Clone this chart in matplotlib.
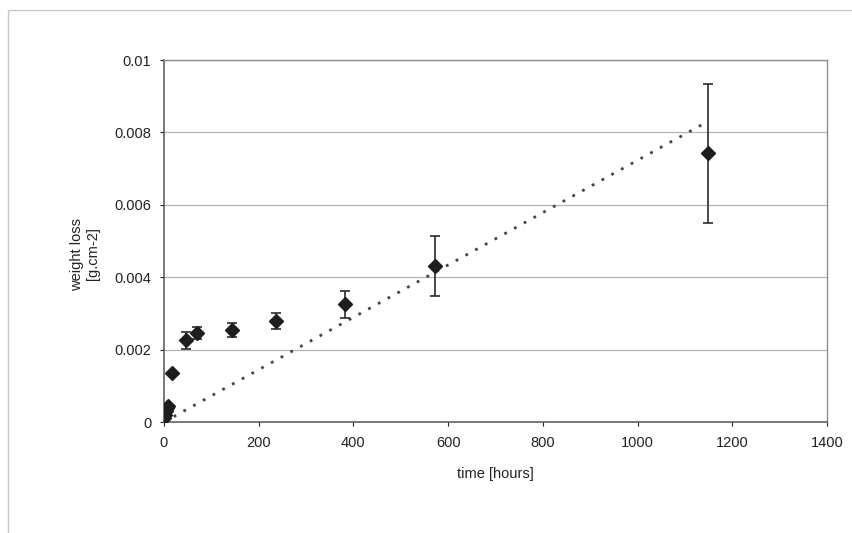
import numpy as np
import matplotlib
matplotlib.use("Agg")
import matplotlib.pyplot as plt
from matplotlib.patches import Rectangle

plt.rcParams['font.family'] = ['Liberation Sans', 'DejaVu Sans']

# data
time_h = [1, 2, 4, 6, 8, 17.6, 46, 70, 144, 236, 382, 572, 1148]
weight_loss = [0.0001, 0.0002, 0.0003, 0.0004, 0.00045, 0.00134, 0.00226,
               0.00245, 0.00254, 0.00279, 0.00325, 0.00431, 0.00742]
err = [0.00005, 0.00005, 0.00005, 0.00005, 0.00005, 0.00005, 0.00024,
       0.00017, 0.0002, 0.00021, 0.00038, 0.00083, 0.00193]
x_ticks = [0, 200, 400, 600, 800, 1000, 1200, 1400]
y_ticks = [0, 0.002, 0.004, 0.006, 0.008, 0.01]
y_ticklabels = ['0', '0.002', '0.004', '0.006', '0.008', '0.01']

x = np.array(time_h)
y = np.array(weight_loss)
slope = np.sum(x * y) / np.sum(x * x)  # linear trendline through origin
tx = np.array([0, x.max()])

fig = plt.figure(figsize=(8.53, 5.33), dpi=100)
fig.patch.set_facecolor('white')
fig.add_artist(Rectangle((8 / 853, -0.1), 1.2, 1 - 10 / 533 + 0.1,
                         transform=fig.transFigure, fill=False,
                         edgecolor='#c8c8c8', linewidth=1))

ax = fig.add_axes([164 / 853, (533 - 422) / 533, (827 - 164) / 853, (422 - 60) / 533])
ax.set_xlim(0, 1400)
ax.set_ylim(0, 0.01)
ax.set_xticks(x_ticks)
ax.set_yticks(y_ticks)
ax.set_yticklabels(y_ticklabels)
ax.grid(axis='y', color='#b4b4b4', linewidth=0.9)
ax.set_axisbelow(True)

ax.plot(tx, slope * tx, linestyle=(0, (1, 3)), color='#444444', linewidth=2)
ax.errorbar(x, y, yerr=err, fmt='D', color='#1e1e1e', markersize=7,
            ecolor='#2a2a2a', elinewidth=1.2, capsize=3.5, capthick=1.2, zorder=3)

for s in ['top', 'right']:
    ax.spines[s].set_color('#8c8c8c')
    ax.spines[s].set_linewidth(1)
for s in ['left', 'bottom']:
    ax.spines[s].set_color('#555555')
    ax.spines[s].set_linewidth(1.1)

ax.tick_params(axis='both', labelsize=10.5, colors='#222222', length=3, width=0.8)
ax.tick_params(axis='x', pad=7)
ax.tick_params(axis='y', pad=6)

ax.set_xlabel('time [hours]', fontsize=10.5, color='#222222', labelpad=12)
ax.set_ylabel('weight loss\n[g.cm-2]', fontsize=10.5, color='#222222',
              linespacing=1.15)
ax.yaxis.set_label_coords(-0.0965, 0.464)

fig.savefig('out.png', dpi=100)
